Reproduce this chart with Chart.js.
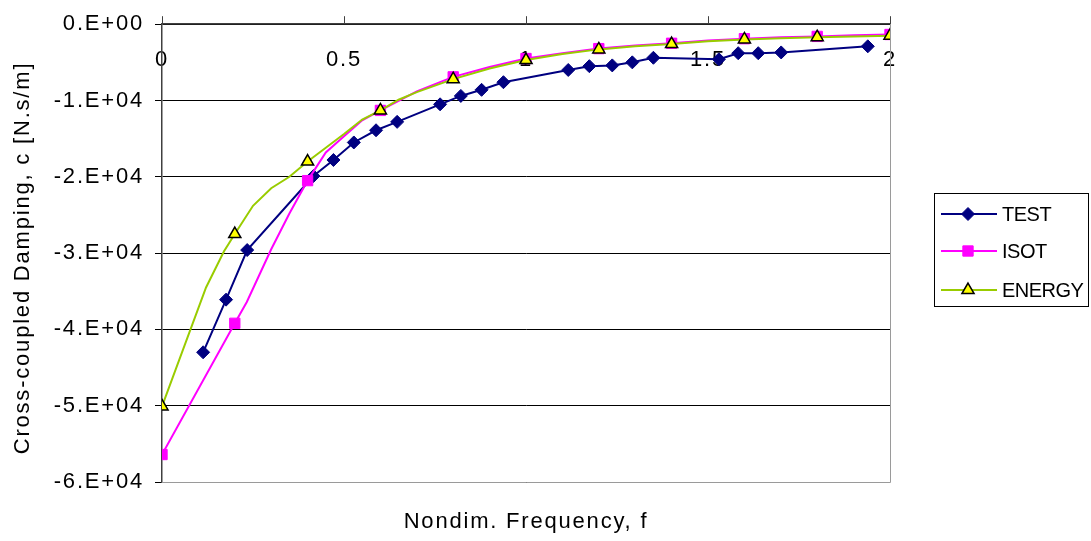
<!DOCTYPE html>
<html>
<head>
<meta charset="utf-8">
<script src="https://cdn.jsdelivr.net/npm/chart.js@4/dist/chart.umd.min.js"></script>
<style>
  html, body { margin: 0; padding: 0; background: #fff; }
  #wrap { width: 1091px; height: 541px; position: relative; }
</style>
</head>
<body>
<div id="wrap"><canvas id="myChart"></canvas></div>
<script>
// Test data (diamonds)
const testF = [0.113, 0.176, 0.234, 0.416, 0.471, 0.527, 0.588, 0.646, 0.764, 0.821, 0.878, 0.938,
               1.116, 1.174, 1.237, 1.292, 1.350, 1.530, 1.583, 1.638, 1.701, 1.939];
const testC = [-43000, -36100, -29600, -19900, -17800, -15500, -13900, -12800, -10500, -9400, -8600, -7600,
               -6000, -5500, -5400, -5000, -4400, -4600, -3800, -3800, -3700, -2900];

// ISOT prediction (squares every 0.2)
const isotF = [0, 0.2, 0.233, 0.3, 0.35, 0.4, 0.45, 0.5, 0.55, 0.6, 0.7, 0.8, 0.9, 1.0,
               1.1, 1.2, 1.3, 1.4, 1.5, 1.6, 1.7, 1.8, 1.9, 2.0];
const isotC = [-56400, -39200, -36400, -29500, -24800, -20500, -16800, -14700, -12600, -11300, -8800, -6900, -5600, -4500,
               -3800, -3200, -2800, -2500, -2150, -1900, -1700, -1600, -1450, -1350];

// ENERGY prediction (triangles every 0.2)
const energyF = [0, 0.121, 0.17, 0.2, 0.25, 0.3, 0.35, 0.4, 0.45, 0.5, 0.55, 0.6, 0.65, 0.7, 0.8, 0.9, 1.0,
                 1.1, 1.2, 1.3, 1.4, 1.5, 1.6, 1.7, 1.8, 1.9, 2.0];
const energyC = [-50100, -34500, -29800, -27500, -23800, -21500, -20000, -18000, -16200, -14400, -12500, -11300, -9900, -8900, -7200, -5800, -4700,
                 -3900, -3300, -2900, -2600, -2250, -2000, -1850, -1700, -1600, -1500];

const markerF = [0, 0.2, 0.4, 0.6, 0.8, 1.0, 1.2, 1.4, 1.6, 1.8, 2.0];

const xTickLabels = ['0', '0.5', '1', '1.5', '2'];
const yTickLabels = ['-6.E+04', '-5.E+04', '-4.E+04', '-3.E+04', '-2.E+04', '-1.E+04', '0.E+00'];

const FONT = 'Liberation Sans';
const SPACING = '1.8px';

function pts(xs, ys) {
    return xs.map((x, i) => ({ x: x, y: ys[i] }));
}
function isMarker(v) {
    return markerF.some(m => Math.abs(m - v) < 1e-6);
}

const extras = {
    id: 'extras',
    beforeUpdate(chart) { chart.ctx.letterSpacing = SPACING; },
    beforeDraw(chart) { chart.ctx.letterSpacing = SPACING; },
    afterDraw(chart) {
        const ctx = chart.ctx;
        const a = chart.chartArea;
        ctx.save();
        // plot area right / bottom edge
        ctx.strokeStyle = '#9a9a9a';
        ctx.lineWidth = 1;
        ctx.beginPath();
        ctx.moveTo(a.right + 0.5, a.top);
        ctx.lineTo(a.right + 0.5, a.bottom + 0.5);
        ctx.lineTo(a.left, a.bottom + 0.5);
        ctx.stroke();

        // axis titles
        ctx.fillStyle = '#000';
        ctx.letterSpacing = SPACING;
        ctx.font = '22px "' + FONT + '"';
        ctx.textAlign = 'center';
        ctx.textBaseline = 'middle';
        ctx.fillText('Nondim. Frequency, f', (a.left + a.right) / 2, 522);
        ctx.save();
        ctx.translate(23, 258);
        ctx.rotate(-Math.PI / 2);
        ctx.fillText('Cross-coupled Damping, c [N.s/m]', 0, 0);
        ctx.restore();

        // legend
        ctx.letterSpacing = '-0.5px';
        ctx.strokeStyle = '#000';
        ctx.lineWidth = 1;
        ctx.strokeRect(934.5, 193.5, 154, 113);
        const rows = [214, 251, 290];
        chart.data.datasets.forEach((ds, i) => {
            const y = rows[i];
            ctx.strokeStyle = ds.borderColor;
            ctx.lineWidth = ds.borderWidth;
            ctx.beginPath();
            ctx.moveTo(941, y);
            ctx.lineTo(997, y);
            ctx.stroke();
            ctx.fillStyle = ds.pointBackgroundColor;
            ctx.strokeStyle = ds.pointBorderColor;
            ctx.lineWidth = ds.pointBorderWidth;
            Chart.helpers.drawPoint(ctx, {
                pointStyle: ds.pointStyle,
                radius: ds.legendRadius,
                borderWidth: ds.pointBorderWidth,
                rotation: 0
            }, 968, y);
            ctx.fillStyle = '#000';
            ctx.font = '20px "' + FONT + '"';
            ctx.textAlign = 'left';
            ctx.textBaseline = 'middle';
            ctx.fillText(ds.label, 1002, y + 1);
        });
        ctx.restore();
    }
};

const ctx = document.getElementById('myChart').getContext('2d');
const myChart = new Chart(ctx, {
    type: 'line',
    data: {
        datasets: [
            {
                label: 'TEST',
                data: pts(testF, testC),
                borderColor: '#000080',
                borderWidth: 2,
                pointStyle: 'rectRot',
                pointRadius: 6.5,
                legendRadius: 6.5,
                pointBackgroundColor: '#000080',
                pointBorderColor: '#000080',
                pointBorderWidth: 1,
                order: 2
            },
            {
                label: 'ISOT',
                data: pts(isotF, isotC),
                borderColor: '#ff00ff',
                borderWidth: 2,
                pointStyle: 'rect',
                pointRadius: c => isMarker(isotF[c.dataIndex]) ? 7.3 : 0,
                legendRadius: 7.3,
                pointBackgroundColor: '#ff00ff',
                pointBorderColor: '#ff00ff',
                pointBorderWidth: 1,
                order: 1
            },
            {
                label: 'ENERGY',
                data: pts(energyF, energyC),
                borderColor: '#99cc00',
                borderWidth: 2,
                pointStyle: 'triangle',
                pointRadius: c => isMarker(energyF[c.dataIndex]) ? 7 : 0,
                legendRadius: 7,
                pointBackgroundColor: '#ffff00',
                pointBorderColor: '#000000',
                pointBorderWidth: 1.5,
                order: 0
            }
        ]
    },
    options: {
        responsive: true,
        maintainAspectRatio: false,
        animation: false,
        layout: { padding: { left: 0, top: 0, right: 201, bottom: 59 } },
        plugins: {
            legend: { display: false },
            tooltip: { enabled: false }
        },
        elements: { line: { tension: 0 } },
        scales: {
            x: {
                type: 'linear',
                position: 'top',
                z: 1,
                min: 0,
                max: 2,
                afterFit(scale) { scale.height = 21; },
                border: { display: true, color: '#404040', width: 1.5 },
                grid: { drawOnChartArea: false, drawTicks: true, tickLength: 8, color: '#404040' },
                ticks: {
                    stepSize: 0.5,
                    mirror: true,
                    padding: 23,
                    color: '#000',
                    font: { family: FONT, size: 22 },
                    maxRotation: 0,
                    callback: (v, i) => xTickLabels[i]
                }
            },
            y: {
                min: -60000,
                max: 0,
                afterFit(scale) { scale.width = 162; },
                border: { display: true, color: '#404040', width: 1.5 },
                grid: { color: '#000', lineWidth: 1, drawTicks: true, tickLength: 7 },
                ticks: {
                    stepSize: 10000,
                    padding: 11,
                    color: '#000',
                    font: { family: FONT, size: 22 },
                    callback: (v, i) => yTickLabels[i]
                }
            }
        }
    },
    plugins: [extras]
});
</script>
</body>
</html>
